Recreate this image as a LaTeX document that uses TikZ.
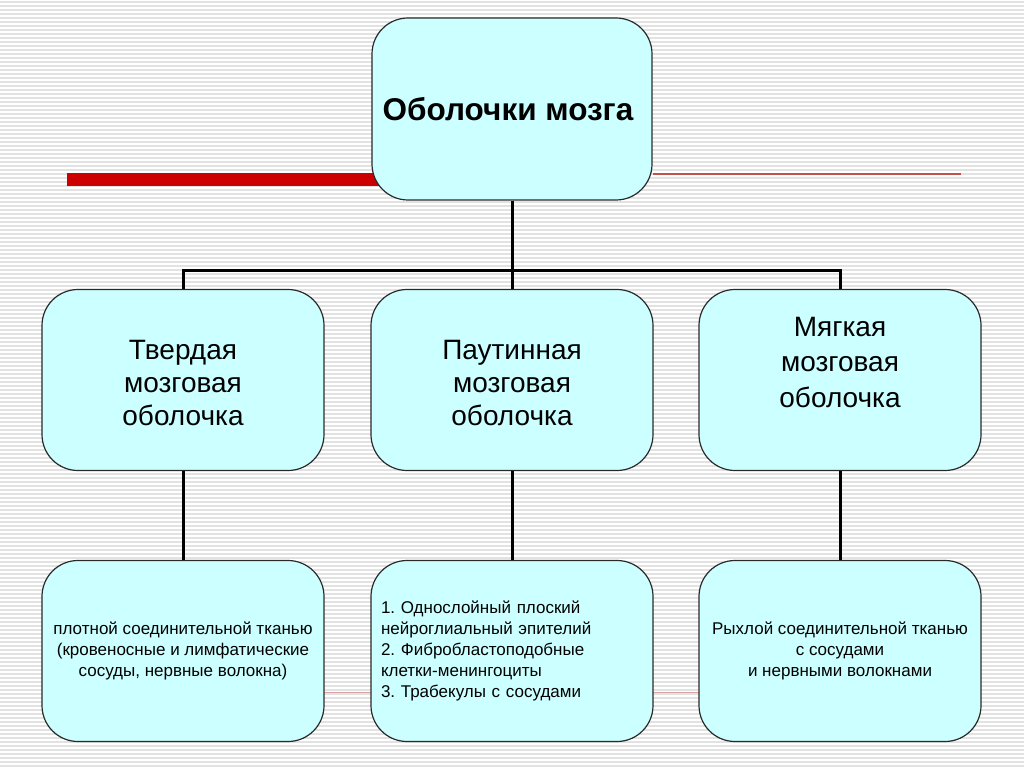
\documentclass[tikz,border=0pt]{standalone}
\usepackage{fontspec}
\setmainfont{Liberation Sans}
\frenchspacing
\definecolor{boxfill}{HTML}{CCFFFF}
\definecolor{boxline}{HTML}{2A2A2A}
\definecolor{barred}{HTML}{CC0000}
\definecolor{thinred}{HTML}{C0504D}
\definecolor{faintred}{HTML}{D9A3A3}
\definecolor{stripe}{HTML}{E2E2E2}
\tikzset{
  box/.style={draw=boxline, line width=1.2pt, fill=boxfill, rounded corners=36pt,
    minimum width=282pt, minimum height=181pt, inner sep=4pt, align=center},
  midtext/.style={font=\fontsize{28}{33}\selectfont},
  lowtext/.style={font=\fontsize{17}{21}\selectfont},
  conn/.style={draw=black, line width=3pt},
}
\begin{document}
\begin{tikzpicture}[x=1pt,y=-1pt]
\useasboundingbox (0,0) rectangle (1024,767);
\fill[white] (0,0) rectangle (1024,767);
\foreach \k in {0,...,191} {
  \fill[stripe] (0,{\k*4+1}) rectangle (1024,{\k*4+2.6});
}
% decorative lines
\fill[barred] (67,173) rectangle (420,186);
\draw[faintred, line width=1pt] (324,692) -- (700,692);
% boxes
\node[box, minimum width=280pt, minimum height=182pt, font=\bfseries\fontsize{31.5}{36}\selectfont] (top) at (512,109) {Оболочки мозга\hspace*{8pt}};
\draw[thinred, line width=1.5pt] (top.east |- 0,174) -- (961,174);
\node[box, midtext] (m1) at (183,380) {\rule{0pt}{26pt}Твердая\\ мозговая\\ оболочка};
\node[box, midtext] (m2) at (512,380) {\rule{0pt}{26pt}Паутинная\\ мозговая\\ оболочка};
\node[box, font=\fontsize{28}{35.5}\selectfont] (m3) at (840,380) {Мягкая\\ мозговая\\ оболочка\\ \mbox{}};
\node[box, lowtext] (b1) at (183,651) {плотной соединительной тканью\\ (кровеносные и лимфатические\\ сосуды, нервные волокна)};
\node[box, lowtext, align=left, text width=262pt] (b2) at (512,651) {1. Однослойный плоский\\ нейроглиальный эпителий\\ 2. Фибробластоподобные\\ клетки-менингоциты\\ 3. Трабекулы с сосудами};
\node[box, lowtext] (b3) at (840,651) {Рыхлой соединительной тканью\\ с сосудами\\ и нервными волокнами};
% connectors
\coordinate (bus) at (512,270);
\draw[conn] (top.south) -- (bus);
\draw[conn] (m1.north) |- (bus) -| (m3.north);
\draw[conn] (m2.north) -- (bus);
\draw[conn] (m1.south) -- (b1.north);
\draw[conn] (m2.south) -- (b2.north);
\draw[conn] (m3.south) -- (b3.north);
\end{tikzpicture}
\end{document}
